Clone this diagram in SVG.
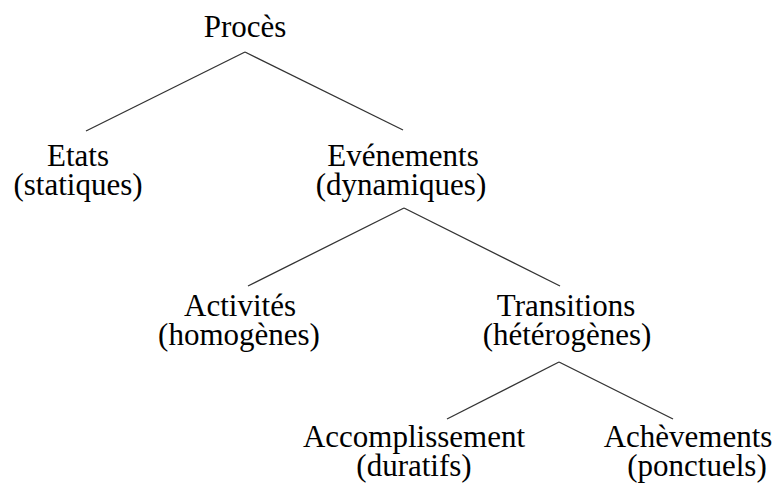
<svg xmlns="http://www.w3.org/2000/svg" width="777" height="487" viewBox="0 0 777 487">
<style>
text{font-family:"Liberation Serif","Times New Roman",serif;font-size:31px;fill:#000;text-anchor:middle}
.c line{stroke:#333;stroke-width:1.3}
</style>
<rect width="777" height="487" fill="#fff"/>
<g class="c" id="connectors">
<line x1="245" y1="52" x2="86" y2="131"/>
<line x1="245" y1="52" x2="403" y2="130"/>
<line x1="404" y1="208" x2="248" y2="286"/>
<line x1="404" y1="208" x2="560" y2="286"/>
<line x1="559" y1="362" x2="447" y2="419"/>
<line x1="559" y1="362" x2="673" y2="419"/>
</g>
<g id="proces"><text x="245" y="37">Procès</text></g>
<g id="etats"><text x="78" y="166">Etats</text><text x="78" y="195">(statiques)</text></g>
<g id="evenements"><text x="403" y="166">Evénements</text><text x="401" y="195">(dynamiques)</text></g>
<g id="activites"><text x="240" y="316">Activités</text><text x="239" y="345">(homogènes)</text></g>
<g id="transitions"><text x="566" y="316">Transitions</text><text x="567" y="345">(hétérogènes)</text></g>
<g id="accomplissement"><text x="414" y="447">Accomplissement</text><text x="414" y="476">(duratifs)</text></g>
<g id="achevements"><text x="688" y="447">Achèvements</text><text x="697" y="476">(ponctuels)</text></g>
</svg>
